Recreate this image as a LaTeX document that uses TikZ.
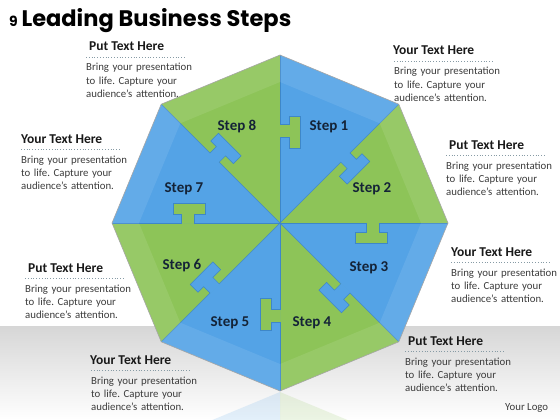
\documentclass[tikz,border=0pt]{standalone}
\usepackage{fontspec}
\setmainfont{Carlito}
\newfontfamily\titlefont{Poppins}
\usetikzlibrary{positioning}

\definecolor{stepblue}{RGB}{84,163,230}
\definecolor{stepgreen}{RGB}{141,196,88}
\definecolor{seamblue}{RGB}{62,135,200}
\definecolor{headblack}{RGB}{25,25,25}
\definecolor{bodygray}{RGB}{60,60,60}
\definecolor{stepnavy}{RGB}{20,35,55}
\definecolor{dotgray}{RGB}{135,155,165}

\tikzset{
  heading/.style={anchor=base west, inner sep=0pt, text=headblack,
    font=\bfseries\fontsize{13.5}{15}\selectfont},
  blurb/.style={anchor=base west, inner sep=0pt, text width=120pt, align=left,
    text=bodygray, font=\fontsize{10.8}{13.3}\selectfont},
  dotrule/.style={dotgray, dotted, line width=0.8pt},
  seam/.style={seamblue, line width=0.5pt},
  octrim/.style={black!35, line width=0.6pt, line join=round},
  steplabel/.style={text=stepnavy, inner sep=0pt,
    font=\bfseries\fontsize{15}{17}\selectfont}
}

\begin{document}
\begin{tikzpicture}[x=1pt,y=1pt]
  \fill[white] (0,0) rectangle (560,-420);
  \useasboundingbox (0,0) rectangle (560,-420);
  % floor
  \shade[top color=black!16, bottom color=white] (0,-326) rectangle (560,-420);
  % reflection under the octagon
  \begin{scope}
    \clip (0,-392) rectangle (560,-420);
    \begin{scope}[shift={(280,-560)}, opacity=0.16]
      \foreach \a/\col in {0/stepblue,45/stepgreen,90/stepblue,135/stepgreen}
        \fill[\col] (0,0) -- (\a:168) -- (\a+45:168) -- cycle;
    \end{scope}
  \end{scope}

  % title
  \node[anchor=base west, inner sep=0pt, font=\titlefont\bfseries\fontsize{22.5}{25}\selectfont]
    (title) at (9,-27) {{\fontsize{14}{15}\selectfont 9}\,Leading Business Steps};

  % octagon of steps
  \begin{scope}[shift={(280,-223)}]
    \foreach \k/\col in {1/stepblue,2/stepgreen,3/stepblue,4/stepgreen,
                         5/stepblue,6/stepgreen,7/stepblue,8/stepgreen}
      \fill[\col] (0,0) -- (135-45*\k:168) -- (90-45*\k:168) -- cycle;
    % puzzle tabs
    \foreach \j/\col in {0/stepgreen,1/stepblue,2/stepgreen,3/stepblue,
                         4/stepgreen,5/stepblue,6/stepgreen,7/stepblue}
    {
      \begin{scope}[rotate=90-45*\j]
        \fill[\col] (86,0.4) -- (86,-9) -- (75,-9) -- (75,-20) -- (107,-20)
          -- (107,-9) -- (99,-9) -- (99,0.4) -- cycle;
        \draw[seam] (0,0) -- (86,0) -- (86,-9) -- (75,-9) -- (75,-20)
          -- (107,-20) -- (107,-9) -- (99,-9) -- (99,0) -- (168,0);
      \end{scope}
    }
    % bevel
    \fill[white, opacity=0.09, even odd rule]
      (0:168) -- (45:168) -- (90:168) -- (135:168) -- (180:168) -- (225:168)
      -- (270:168) -- (315:168) -- cycle
      (0:141) -- (45:141) -- (90:141) -- (135:141) -- (180:141) -- (225:141)
      -- (270:141) -- (315:141) -- cycle;
    \draw[octrim]
      (0:168) -- (45:168) -- (90:168) -- (135:168) -- (180:168) -- (225:168)
      -- (270:168) -- (315:168) -- cycle;
  \end{scope}

  % step labels
  \foreach \k/\x/\y in {1/329/127,2/372/189,3/369/268,4/312/323,
                        5/230/323,6/182/266,7/184/189,8/237/127}
    \node[steplabel] (s\k) at (\x,-\y) {Step \k};

  % text blocks
  \foreach \n/\hx/\hy/\bx/\head in {a/89/51/86/Put Text Here,
      b/393/55/394/Your Text Here, c/21/143/21/Your Text Here,
      d/449/149/446/Put Text Here, e/28/272/25/Put Text Here,
      f/451/256/451/Your Text Here, g/90/364/91/Your Text Here,
      h/408/345/405/Put Text Here}
  {
    \node[heading] (head\n) at (\hx,-\hy) {\head};
    \draw[dotrule] (\bx,-\hy-6) -- ++(100,0);
    \node[blurb] (body\n) at (\bx,-\hy-20)
      {Bring your presentation\\to life.\ Capture your\\audience’s attention.};
  }

  \node[anchor=base west, inner sep=0pt, text=bodygray, font=\fontsize{10.8}{13}\selectfont]
    (logo) at (505,-410) {Your Logo};
\end{tikzpicture}
\end{document}
